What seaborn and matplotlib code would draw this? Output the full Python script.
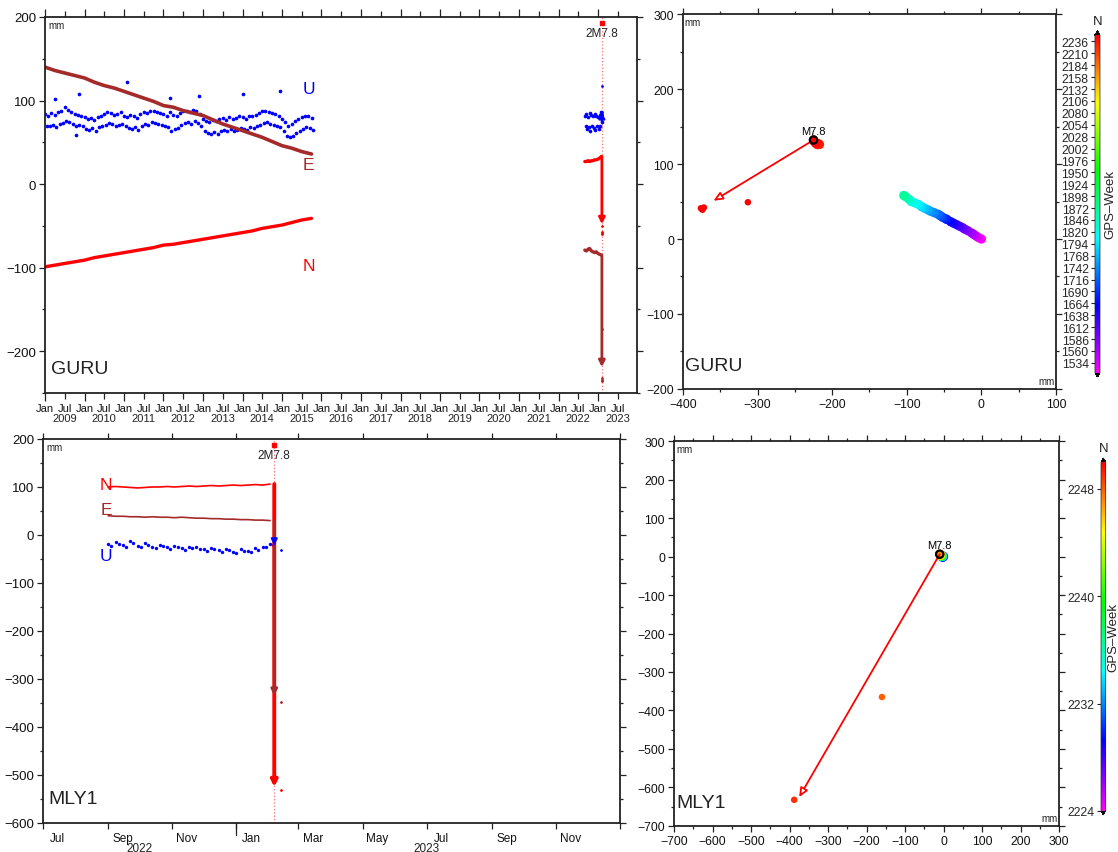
"""GPS station displacements around the 2023-02-06 M7.8 event: GURU and MLY1."""

import matplotlib

matplotlib.use("Agg")
import matplotlib.dates as mdates
import matplotlib.pyplot as plt
import numpy as np
import pandas as pd
import seaborn as sns
from matplotlib.colors import LinearSegmentedColormap, Normalize
from matplotlib.ticker import MultipleLocator, NullFormatter

QUAKE = pd.Timestamp("2023-02-06")
GPS_EPOCH = pd.Timestamp("1980-01-06")

# ---- GURU 2009-2015: E / N read quarterly, U cloud read monthly (upper and lower edge)
guru_dates_a = pd.date_range("2009-01-01", "2015-10-01", freq="QS")
guru_e_a = [140, 136, 133, 130, 127, 122, 118, 115, 111, 107, 103, 99, 94, 92,
            88, 85, 82, 77, 72, 68, 64, 60, 56, 51, 46, 43, 39, 36]
guru_n_a = [-99, -97, -95, -93, -91, -88, -86, -84, -82, -80, -78, -76, -73, -72,
            -70, -68, -66, -64, -62, -60, -58, -56, -53, -51, -49, -46, -43, -41]
guru_u_dates_a = pd.date_range("2009-01-01", "2015-10-01", freq="MS")
guru_u_hi_a = [84, 82, 85, 83, 86, 88, 92, 89, 86, 84, 83, 82,
               80, 78, 79, 77, 80, 82, 84, 86, 85, 83, 84, 86,
               82, 80, 83, 81, 79, 84, 86, 85, 88, 87, 86, 85,
               84, 82, 86, 83, 81, 85, 87, 88, 86, 89, 87, 84,
               78, 76, 74, 77, 75, 78, 79, 77, 80, 78, 79, 81,
               80, 78, 82, 81, 83, 85, 87, 88, 86, 85, 84, 82,
               78, 74, 70, 72, 75, 78, 80, 82, 81, 79]
guru_u_lo_a = [70, 69, 71, 68, 72, 73, 76, 74, 72, 70, 71, 69,
               66, 65, 67, 64, 68, 70, 71, 73, 72, 70, 71, 72,
               69, 67, 66, 68, 65, 70, 72, 71, 74, 73, 72, 71,
               70, 68, 64, 66, 67, 71, 73, 74, 72, 75, 73, 70,
               63, 61, 60, 62, 60, 64, 65, 63, 66, 64, 65, 67,
               66, 65, 68, 67, 69, 71, 73, 74, 72, 71, 70, 68,
               63, 58, 56, 58, 61, 64, 66, 68, 67, 65]
guru_u_out_dates = pd.to_datetime(["2009-04-01", "2009-10-15", "2009-11-10", "2011-02-01",
                                   "2012-03-01", "2012-11-20", "2014-01-05", "2014-12-15"])
guru_u_out = [102, 59, 108, 122, 103, 106, 108, 111]

# ---- GURU 2022-2023
guru_dates_b = pd.date_range("2022-09-01", "2023-02-01", freq="SMS")
guru_e_b = [-79, -80, -78, -77, -80, -81, -82, -81, -83, -84, -85]
guru_n_b = [27, 27, 28, 27, 28, 28, 29, 29, 30, 31, 33]
guru_u_hi_b = [82, 84, 80, 85, 83, 81, 84, 82, 80, 83, 86]
guru_u_lo_b = [70, 66, 68, 64, 70, 67, 65, 69, 66, 70, 74]
guru_co_e, guru_co_n, guru_co_u = -219, -48, 86
guru_post_dates = pd.to_datetime(["2023-02-07", "2023-02-08", "2023-02-09", "2023-02-10"])
guru_post_e = [-234, -232, -236, -173]
guru_post_n = [-60, -57, -58, -50]
guru_post_u = [117, 86, 84, 83]

# ---- MLY1 2022-2023 (weekly readings)
mly1_dates = pd.date_range("2022-09-01", "2023-02-02", freq="7D")
mly1_n = [100, 101, 100, 99, 98, 99, 100, 100, 101, 100, 101, 102,
          101, 102, 103, 102, 103, 104, 103, 104, 105, 104, 106]
mly1_e = [40, 39, 39, 38, 38, 37, 38, 37, 37, 36, 37, 36,
          35, 35, 34, 34, 33, 33, 32, 32, 31, 31, 30]
mly1_u_dates = pd.date_range("2022-09-04", "2023-02-05", freq="7D")
mly1_u_a = [-18, -14, -20, -12, -22, -17, -24, -20, -26, -22, -28, -24,
            -25, -30, -27, -32, -29, -35, -30, -33, -28, -24, -18]
mly1_u_b = [-22, -19, -24, -16, -26, -21, -27, -23, -29, -25, -31, -28,
            -29, -33, -30, -35, -32, -38, -34, -36, -31, -26, -20]
mly1_co_e, mly1_co_n, mly1_co_u = -335, -525, -22
mly1_post_dates = pd.to_datetime(["2023-02-06", "2023-02-12"])
mly1_post_e = [-120, -348]
mly1_post_n = [-265, -532]
mly1_post_u = [-25, -31]

RED = "#ff0000"
BROWN = "#a52a2a"
BLUE = "#0000ff"
INK = "#222222"

rainbow = LinearSegmentedColormap.from_list(
    "gmt_rainbow", ["#ff00ff", "#0000ff", "#00ffff", "#00ff00", "#ffff00", "#ff0000"])
rainbow.set_under("black")
rainbow.set_over("black")

sns.set_theme(style="ticks")
plt.rcParams["font.family"] = ["Liberation Sans", "DejaVu Sans"]


def gps_week(dates):
    return np.asarray((pd.DatetimeIndex(dates) - GPS_EPOCH).days // 7)


def frame(ax, labelsize=9.5):
    for sp in ax.spines.values():
        sp.set_visible(True)
        sp.set_linewidth(1.3)
        sp.set_color(INK)
    ax.tick_params(which="both", direction="out", top=True, right=True, bottom=True,
                   left=True, color=INK, width=0.9, labelsize=labelsize,
                   labelcolor="#111111", labeltop=False, labelright=False)
    ax.tick_params(which="major", length=4.5, pad=2)
    ax.tick_params(which="minor", length=2.5)
    ax.set_xlabel("")
    ax.set_ylabel("")


def dots(ax, dates, vals, color, s=7):
    sns.scatterplot(x=dates, y=vals, color=color, s=s, linewidth=0, ax=ax)


def trace(ax, dates, vals, color, lw):
    sns.lineplot(x=dates, y=vals, color=color, linewidth=lw, estimator=None, ax=ax)


def quake_arrow(ax, start, end, color, lw):
    qx = mdates.date2num(QUAKE)
    ax.annotate("", xy=(qx, end), xytext=(qx, start),
                arrowprops=dict(arrowstyle="-|>", color=color, lw=lw, shrinkA=0,
                                shrinkB=0, mutation_scale=9))


def quake_mark(ax):
    qx = mdates.date2num(QUAKE)
    ax.axvline(qx, color=RED, ls=":", lw=0.9, alpha=0.55, zorder=0)
    tr = ax.get_xaxis_transform()
    ax.plot([qx], [0.985], "s", color=RED, ms=3.5, transform=tr, clip_on=False)
    ax.text(qx, 0.957, "2M7.8", transform=tr, ha="center", va="center", fontsize=8.5,
            color=INK)


def corner_text(ax, station):
    ax.text(0.006, 0.992, "mm", transform=ax.transAxes, ha="left", va="top", fontsize=7,
            color=INK)
    ax.text(0.01, 0.065, station, transform=ax.transAxes, ha="left", va="center",
            fontsize=14, color=INK)


def horizontal(ax, station, pre_dates, pre_e, pre_n, post_dates, post_e, post_n,
               co_e, co_n, e0, n0, norm):
    pre = pd.DataFrame({"east": np.asarray(pre_e) - e0, "north": np.asarray(pre_n) - n0,
                        "week": gps_week(pre_dates)})
    post = pd.DataFrame({"east": np.asarray(post_e) - e0, "north": np.asarray(post_n) - n0,
                         "week": gps_week(post_dates)})
    sns.scatterplot(data=pre, x="east", y="north", hue="week", palette=rainbow,
                    hue_norm=norm, s=45, linewidth=0, legend=False, ax=ax)
    last = pre.iloc[-1]
    ax.annotate("", xy=(co_e - e0, co_n - n0), xytext=(last["east"], last["north"]),
                arrowprops=dict(arrowstyle="-|>,head_length=0.45,head_width=0.2",
                                fc="white", ec=RED, lw=1.3, shrinkA=0, shrinkB=0))
    sns.scatterplot(data=post, x="east", y="north", hue="week", palette=rainbow,
                    hue_norm=norm, s=22, linewidth=0, legend=False, ax=ax)
    ax.scatter([last["east"]], [last["north"]], s=28, facecolors="none",
               edgecolors="black", linewidths=1.6, zorder=5)
    ax.annotate("M7.8", (last["east"], last["north"]), xytext=(0, 3),
                textcoords="offset points", ha="center", va="bottom", fontsize=8,
                color="black")
    frame(ax, labelsize=8.8)
    ax.xaxis.set_major_locator(MultipleLocator(100))
    ax.xaxis.set_minor_locator(MultipleLocator(50))
    ax.yaxis.set_major_locator(MultipleLocator(100))
    ax.yaxis.set_minor_locator(MultipleLocator(50))
    ax.text(0.005, 0.993, "mm", transform=ax.transAxes, ha="left", va="top", fontsize=7,
            color=INK)
    ax.text(0.997, 0.008, "mm", transform=ax.transAxes, ha="right", va="bottom",
            fontsize=7, color=INK)
    ax.text(0.006, 0.062, station, transform=ax.transAxes, ha="left", va="center",
            fontsize=14, color=INK)


def week_bar(fig, rect, norm, ticks, labelpad):
    cax = fig.add_axes(rect)
    sm = plt.cm.ScalarMappable(norm=norm, cmap=rainbow)
    cb = fig.colorbar(sm, cax=cax, extend="both", extendfrac=0.012)
    cb.set_ticks(ticks)
    cb.outline.set_linewidth(0.5)
    cax.yaxis.set_ticks_position("left")
    cax.yaxis.set_label_position("right")
    cax.tick_params(labelsize=8.8, length=3, width=0.8, direction="out", color=INK, pad=1.5)
    cb.set_label("GPS\u2013Week", fontsize=9.5, labelpad=labelpad, color=INK)
    cax.set_title("N", fontsize=9.5, pad=5, color=INK)


fig = plt.figure(figsize=(11.18, 8.53), dpi=100)

# ---------------- GURU time series
ax = fig.add_axes([0.0403, 0.5381, 0.5295, 0.4408])
quake_mark(ax)
dots(ax, guru_u_dates_a, guru_u_hi_a, BLUE)
dots(ax, guru_u_dates_a + pd.Timedelta(days=14), guru_u_lo_a, BLUE)
dots(ax, guru_u_out_dates, guru_u_out, BLUE)
dots(ax, guru_dates_b, guru_u_hi_b, BLUE)
dots(ax, guru_dates_b + pd.Timedelta(days=7), guru_u_lo_b, BLUE)
trace(ax, guru_dates_a, guru_e_a, BROWN, 2.6)
trace(ax, guru_dates_a, guru_n_a, RED, 2.4)
trace(ax, guru_dates_b, guru_e_b, BROWN, 2.4)
trace(ax, guru_dates_b, guru_n_b, RED, 2.4)
quake_arrow(ax, guru_n_b[-1], guru_co_n, RED, 2.0)
quake_arrow(ax, guru_e_b[-1], guru_co_e, BROWN, 2.0)
quake_arrow(ax, guru_u_lo_b[-1], guru_co_u, BLUE, 1.5)
dots(ax, guru_post_dates, guru_post_n, RED, 4)
dots(ax, guru_post_dates, guru_post_e, BROWN, 4)
dots(ax, guru_post_dates, guru_post_u, BLUE, 4)
ax.set_xlim(pd.Timestamp("2009-01-01"), pd.Timestamp("2023-12-28"))
ax.set_ylim(-250, 200)
frame(ax)
ax.yaxis.set_major_locator(MultipleLocator(100))
ax.yaxis.set_minor_locator(MultipleLocator(50))
ax.xaxis.set_major_locator(mdates.MonthLocator(bymonth=[1]))
ax.xaxis.set_minor_locator(mdates.MonthLocator(bymonth=[7]))
ax.xaxis.set_major_formatter(mdates.DateFormatter("%b"))
ax.xaxis.set_minor_formatter(mdates.DateFormatter("%b"))
ax.tick_params(axis="x", which="major", length=6, pad=1.5, labelsize=8)
ax.tick_params(axis="x", which="minor", length=4, pad=3.5, labelsize=8)
tr = ax.get_xaxis_transform()
for year in range(2009, 2024):
    ax.text(mdates.date2num(pd.Timestamp(f"{year}-07-01")), -0.067, str(year),
            transform=tr, ha="center", va="center", fontsize=8, color=INK)
for label, value, color in [("U", 114, BLUE), ("E", 24, BROWN), ("N", -98, RED)]:
    ax.text(mdates.date2num(pd.Timestamp("2015-09-04")), value, label, ha="center",
            va="center", fontsize=12.5, color=color)
corner_text(ax, "GURU")

# ---------------- GURU horizontal
norm_guru = Normalize(1512, 2250)
ax = fig.add_axes([0.6109, 0.5428, 0.3336, 0.4396])
horizontal(ax, "GURU", guru_dates_a.append(guru_dates_b), guru_e_a + guru_e_b,
           guru_n_a + guru_n_b, guru_post_dates, guru_post_e, guru_post_n,
           guru_co_e, guru_co_n, guru_e_a[0], guru_n_a[0], norm_guru)
ax.set_xlim(-400, 100)
ax.set_ylim(-200, 300)
week_bar(fig, [0.9794, 0.5569, 0.0045, 0.4056], norm_guru, list(range(1534, 2237, 26)), 3)

# ---------------- MLY1 time series
ax = fig.add_axes([0.0385, 0.0340, 0.5161, 0.4502])
quake_mark(ax)
dots(ax, mly1_dates, mly1_u_a, BLUE, 6)
dots(ax, mly1_u_dates, mly1_u_b, BLUE, 6)
trace(ax, mly1_dates, mly1_n, RED, 1.2)
trace(ax, mly1_dates, mly1_e, BROWN, 1.2)
quake_arrow(ax, mly1_n[-1], mly1_co_n, RED, 2.8)
quake_arrow(ax, mly1_e[-1], mly1_co_e, BROWN, 2.0)
quake_arrow(ax, mly1_u_a[-1], mly1_co_u, BLUE, 1.5)
dots(ax, mly1_post_dates[1:], mly1_post_n[1:], RED, 4)
dots(ax, mly1_post_dates[1:], mly1_post_e[1:], BROWN, 4)
dots(ax, mly1_post_dates[1:], mly1_post_u[1:], BLUE, 4)
ax.set_xlim(pd.Timestamp("2022-07-01"), pd.Timestamp("2024-01-01"))
ax.set_ylim(-600, 200)
frame(ax)
ax.yaxis.set_major_locator(MultipleLocator(100))
ax.yaxis.set_minor_locator(MultipleLocator(50))
odd_months = [1, 3, 5, 7, 9, 11]
ax.xaxis.set_major_locator(mdates.MonthLocator(bymonth=odd_months))
ax.xaxis.set_major_formatter(NullFormatter())
ax.xaxis.set_minor_locator(mdates.MonthLocator(bymonth=odd_months, bymonthday=15))
ax.xaxis.set_minor_formatter(mdates.DateFormatter("%b"))
ax.tick_params(axis="x", which="major", length=4.5)
ax.tick_params(axis="x", which="minor", length=0, pad=6.5, labelsize=8.5)
tr = ax.get_xaxis_transform()
jan23 = mdates.date2num(pd.Timestamp("2023-01-01"))
ax.plot([jan23, jan23], [0, -0.03], transform=tr, color=INK, lw=0.9, clip_on=False)
ax.text(mdates.date2num(pd.Timestamp("2022-10-01")), -0.064, "2022", transform=tr,
        ha="center", va="center", fontsize=8.5, color=INK)
ax.text(mdates.date2num(pd.Timestamp("2023-07-01")), -0.064, "2023", transform=tr,
        ha="center", va="center", fontsize=8.5, color=INK)
for label, value, color in [("N", 106, RED), ("E", 54, BROWN), ("U", -43, BLUE)]:
    ax.text(mdates.date2num(pd.Timestamp("2022-08-30")), value, label, ha="center",
            va="center", fontsize=12.5, color=color)
corner_text(ax, "MLY1")

# ---------------- MLY1 horizontal
norm_mly1 = Normalize(2224, 2250)
ax = fig.add_axes([0.6029, 0.0305, 0.3444, 0.4513])
horizontal(ax, "MLY1", mly1_dates, mly1_e, mly1_n, mly1_post_dates, mly1_post_e,
           mly1_post_n, mly1_co_e, mly1_co_n, mly1_e[0], mly1_n[0], norm_mly1)
ax.set_xlim(-700, 300)
ax.set_ylim(-700, 300)
week_bar(fig, [0.9848, 0.0434, 0.0042, 0.4185], norm_mly1, [2224, 2232, 2240, 2248], 1)

fig.savefig("out.png", dpi=100)
plt.close(fig)
